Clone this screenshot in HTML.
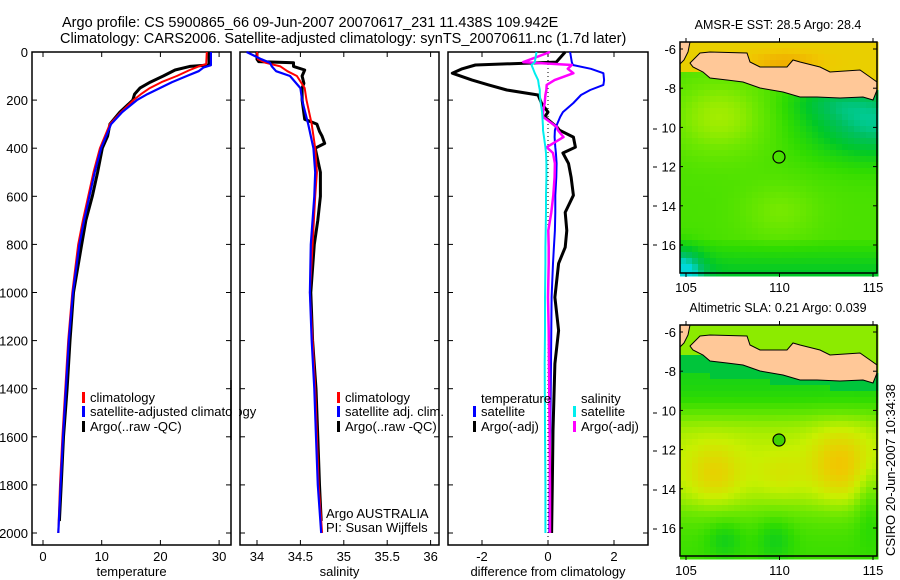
<!DOCTYPE html>
<html><head><meta charset="utf-8">
<style>
html,body{margin:0;padding:0;background:#fff;}
svg{display:block;font-family:"Liberation Sans",sans-serif;}
text{fill:#000;}
</style></head>
<body>
<svg id="fig" width="900" height="580" viewBox="0 0 900 580">
<text x="62" y="27" font-size="14.5">Argo profile: CS 5900865_66 09-Jun-2007 20070617_231 11.438S 109.942E</text>
<text x="60" y="43" font-size="14.5">Climatology: CARS2006. Satellite-adjusted climatology: synTS_20070611.nc (1.7d later)</text>
<g id="panels"></g>
<g id="maps"></g>
<text transform="translate(895,470) rotate(-90)" text-anchor="middle" font-size="13">CSIRO 20-Jun-2007 10:34:38</text>
</svg>
<script>
// ---- data ----
const depthTicks = [0,200,400,600,800,1000,1200,1400,1600,1800,2000];
const tempTicks = [0,10,20,30];
const salTicks = [34,34.5,35,35.5,36];
const diffTicks = [-2,0,2];
const latTicks = [-6,-8,-10,-12,-14,-16];
const latLabels = ["-6","-8","10","12","14","16"];
const lonTicks = [105,110,115];

const tClimDepth = [0,50,60,75,100,125,150,175,200,250,300,400,500,600,700,800,1000,1200,1400,1600,1800,2000];
const tClim      = [27.9,27.8,26.5,25,22.8,20.2,18.2,16.7,15.4,13.3,11.4,9.7,8.6,7.7,6.8,6.0,5.0,4.3,3.8,3.3,2.9,2.6];
const tSatDepth  = [0,55,65,80,100,125,150,175,200,250,300,400,500,600,700,800,1000,1200,1400,1600,1800,2000];
const tSat       = [28.6,28.6,27.3,26.5,24.5,22.0,19.9,17.8,16.0,13.5,11.6,9.9,8.8,7.9,7.0,6.2,5.1,4.4,3.9,3.4,3.0,2.6];
const tArgoDepth = [0,54,60,75,100,125,150,175,200,250,300,350,400,500,600,700,800,1000,1200,1400,1600,1800,1950];
const tArgo      = [28.3,28.3,25.0,22.5,20.5,18.3,16.5,15.6,15.3,13.1,11.4,11.0,10.1,9.3,8.4,7.3,6.6,5.2,4.6,4.1,3.5,3.1,2.8];

const sClimDepth = [0,30,45,60,80,100,150,200,300,400,500,600,800,1000,1200,1400,1600,1800,2000];
const sClim      = [34.0,34.01,34.1,34.27,34.35,34.46,34.55,34.57,34.63,34.67,34.69,34.67,34.64,34.61,34.64,34.67,34.69,34.71,34.75];
const sSatDepth  = [0,30,45,60,80,100,150,200,300,400,500,600,800,1000,1200,1400,1600,1800,2000];
const sSat       = [33.88,34.05,34.15,34.17,34.22,34.38,34.5,34.52,34.59,34.65,34.67,34.66,34.62,34.61,34.63,34.66,34.68,34.70,34.74];
const sArgoDepth = [0,30,40,45,60,75,100,130,150,200,280,300,330,350,380,400,450,500,600,700,800,1000,1200,1400,1600,1800,1950];
const sArgo      = [34.0,34.0,34.02,34.42,34.42,34.55,34.52,34.54,34.52,34.52,34.55,34.69,34.72,34.75,34.78,34.67,34.70,34.73,34.73,34.70,34.66,34.62,34.64,34.68,34.70,34.72,34.74];

const dDepth   = [0,42,54,70,88,117,137,158,179,212,250,270,312,325,354,396,420,463,520,596,667,742,812,879,1020,1158,1296,1575,1800,2000];
const dTempSat = [0.67,0.72,0.75,1.3,1.68,1.7,1.68,1.28,1.0,0.77,0.45,0.37,0.24,0.21,0.2,0.22,0.24,0.26,0.25,0.22,0.22,0.21,0.18,0.15,0.11,0.1,0.09,0.07,0.05,0.04];
const dTempArgo= [0.52,0.25,-2.2,-2.6,-2.9,-2.3,-1.8,-1.25,-0.3,-0.2,0.0,-0.1,0.27,0.35,0.77,0.83,0.45,0.62,0.7,0.77,0.52,0.57,0.52,0.32,0.21,0.32,0.21,0.15,0.13,0.11];
const dSalSat  = [-0.35,-0.4,-0.5,-0.45,-0.4,-0.3,-0.28,-0.25,-0.25,-0.22,-0.18,-0.17,-0.15,-0.15,-0.12,-0.08,-0.06,-0.05,-0.05,-0.06,-0.06,-0.07,-0.08,-0.08,-0.09,-0.09,-0.1,-0.09,-0.08,-0.08];
const dSalArgo = [0.06,-0.75,0.72,0.6,0.77,0.2,-0.04,-0.05,-0.08,-0.1,-0.15,-0.15,0.27,0.3,0.47,-0.04,0.15,0.21,0.2,0.16,0.1,0.01,0.02,0.02,0.0,0.02,0.03,0.05,0.06,0.06];

// ---- helpers ----
const NS="http://www.w3.org/2000/svg";
function mk(tag,attrs,parent){const e=document.createElementNS(NS,tag);for(const k in attrs)e.setAttribute(k,attrs[k]);parent.appendChild(e);return e;}
const top0=52, bot0=545;
const yD = d => top0 + d*0.2405;
const panels=document.getElementById('panels');

function panel(name,x0,x1,xScale,xticks,xlabels,xtitle,showDepth){
  const g=mk('g',{},panels);
  
  
  const r=mk('rect',{x:x0,y:top0,width:x1-x0,height:bot0-top0,fill:'none',stroke:'#000','stroke-width':1.5},g);
  
  
  depthTicks.forEach(d=>{
    const y=yD(d);
    mk('line',{x1:x0,x2:x0+5,y1:y,y2:y,stroke:'#000'},g);
    mk('line',{x1:x1-5,x2:x1,y1:y,y2:y,stroke:'#000'},g);
    if(showDepth){const t=mk('text',{x:x0-4,y:y+5,'text-anchor':'end','font-size':13},g);t.textContent=d;
      
      }
  });
  xticks.forEach((v,i)=>{
    const x=xScale(v);
    mk('line',{x1:x,x2:x,y1:top0,y2:top0+5,stroke:'#000'},g);
    mk('line',{x1:x,x2:x,y1:bot0-5,y2:bot0,stroke:'#000'},g);
    const t=mk('text',{x:x,y:561,'text-anchor':'middle','font-size':13},g);t.textContent=xlabels[i];
    
    
  });
  const tt=mk('text',{x:(x0+x1)/2,y:576,'text-anchor':'middle','font-size':13},g);tt.textContent=xtitle;
  
  
  return g;
}
function series(g,name,depths,vals,xs,color,w){
  const pts=depths.map((d,i)=>xs(vals[i]).toFixed(1)+','+yD(d).toFixed(1)).join(' ');
  const p=mk('polyline',{points:pts,fill:'none',stroke:color,'stroke-width':w,'stroke-linejoin':'round'},g);
  
  
}
function legend(g,x,y,color,label,name){
  mk('rect',{x:x,y:y-10,width:3,height:11,fill:color},g);
  const t=mk('text',{x:x+8,y:y,'font-size':13},g);t.textContent=label;
  
  
}

// Panel 1 temperature
const xT=v=>43+v*5.87;
const p1=panel('temperature-panel',32,231,xT,tempTicks,tempTicks.map(String),'temperature',true);
series(p1,'temp-argo-line',tArgoDepth,tArgo,xT,'#000',3);
series(p1,'temp-climatology-line',tClimDepth,tClim,xT,'#f00',2);
series(p1,'temp-satellite-adjusted-line',tSatDepth,tSat,xT,'#00f',2.2);
legend(p1,82,402,'#f00','climatology','legend-climatology');
legend(p1,82,416,'#00f','satellite-adjusted climatology','legend-satellite-adjusted');
legend(p1,82,431,'#000','Argo(..raw -QC)','legend-argo');
mk('rect',{x:232,y:380,width:7,height:60,fill:'#fff'},panels);
mk('line',{x1:231,x2:231,y1:380,y2:440,stroke:'#000','stroke-width':1.5},panels);

// Panel 2 salinity
const xS=v=>257+(v-34)*86.8;
const p2=panel('salinity-panel',240,439,xS,salTicks,["34","34.5","35","35.5","36"],'salinity',false);
series(p2,'sal-argo-line',sArgoDepth,sArgo,xS,'#000',3);
series(p2,'sal-climatology-line',sClimDepth,sClim,xS,'#f00',2);
series(p2,'sal-satellite-adjusted-line',sSatDepth,sSat,xS,'#00f',2.2);
legend(p2,337,402,'#f00','climatology','legend-sal-climatology');
legend(p2,337,416,'#00f','satellite adj. clim.','legend-sal-satellite');
legend(p2,337,431,'#000','Argo(..raw -QC)','legend-sal-argo');
const a1=mk('text',{x:326,y:518,'font-size':13},p2);a1.textContent='Argo AUSTRALIA';


const a2=mk('text',{x:326,y:532,'font-size':13},p2);a2.textContent='PI: Susan Wijffels';



// Panel 3 difference
const xDf=v=>548+v*33;
const p3=panel('difference-panel',448,648,xDf,diffTicks,["-2","0","2"],'difference from climatology',false);
mk('line',{x1:xDf(0),x2:xDf(0),y1:top0,y2:bot0,stroke:'#000','stroke-dasharray':'1,3'},p3);
series(p3,'diff-temp-argo-line',dDepth,dTempArgo,xDf,'#000',3);
series(p3,'diff-temp-satellite-line',dDepth,dTempSat,xDf,'#00f',2);
series(p3,'diff-sal-argo-line',dDepth,dSalArgo,xDf,'#f0f',2.5);
series(p3,'diff-sal-satellite-line',dDepth,dSalSat,xDf,'#0ee',2);
const lt=mk('text',{x:481,y:403,'font-size':13},p3);lt.textContent='temperature';


const ls=mk('text',{x:581,y:403,'font-size':13},p3);ls.textContent='salinity';


legend(p3,473,416,'#00f','satellite','legend-diff-temp-satellite');
legend(p3,473,431,'#000','Argo(-adj)','legend-diff-temp-argo');
legend(p3,573,416,'#0ee','satellite','legend-diff-sal-satellite');
legend(p3,573,431,'#f0f','Argo(-adj)','legend-diff-sal-argo');
[129,167,206,245,413,451,490,529].forEach(y=>mk('line',{x1:653,x2:657,y1:y,y2:y,stroke:'#000'},panels));

// ---- maps (approximate image fields) ----
const maps=document.getElementById('maps');
const java=[[20,11],[30,10],[67,11],[70,20],[80,25],[107,25],[113,18],[120,20],[140,25],[150,30],[180,28],[190,35],[197,40],[197,48],[193,58],[183,55],[160,56],[137,55],[120,55],[103,50],[80,46],[63,40],[47,38],[30,36],[23,30],[13,25],[10,21]];
const ramp=[[0,[0,216,216]],[0.2,[0,192,96]],[0.35,[0,200,40]],[0.5,[48,220,0]],[0.62,[110,232,0]],[0.74,[200,240,0]],[0.86,[240,200,0]],[1,[240,140,0]]];
function rampColor(v){
  v=Math.max(0,Math.min(1,v));
  for(let i=1;i<ramp.length;i++){
    if(v<=ramp[i][0]){const a=ramp[i-1],b=ramp[i];const t=(v-a[0])/(b[0]-a[0]);
      const c=a[1].map((c0,k)=>Math.round(c0+(b[1][k]-c0)*t));return `rgb(${c[0]},${c[1]},${c[2]})`;}
  }
  return 'rgb(240,140,0)';
}
const G=(x,y,cx,cy,sx,sy)=>Math.exp(-((x-cx)*(x-cx)/sx+(y-cy)*(y-cy)/sy));
const sig=z=>1/(1+Math.exp(-z));
function coastY(x){return 36+(x/197)*20;}
function sstV(x,y){
  if(y<coastY(x)-8) return 0.84+0.08*G(x,y,105,20,1200,100);
  let v=0.55+0.14*G(x,y,40,75,2500,1500)+0.08*G(x,y,100,170,1500,800)
    -0.42*G(x,y,195,80,4000,1200)-0.15*G(x,y,150,60,1500,300)
    -0.2*Math.max(0,(y-195)/36)-0.5*G(x,y,0,231,500,500);
  return v;
}
function slaV(x,y){
  const cy=coastY(x);
  if(y<cy-8) return 0.66;
  if(y<cy+12) return 0.3;
  let v=0.42+0.3*sig((y-85)/10)-0.2*sig((y-185)/12)
    +0.12*G(x,y,35,150,800,1000)+0.15*G(x,y,160,140,900,1400)+0.06*G(x,y,100,150,600,600)
    -0.12*G(x,y,45,215,300,300)-0.12*G(x,y,95,215,300,400)-0.1*G(x,y,190,180,200,1500);
  return v;
}
function drawMap(name,ox,oy,title,valFn,filledDot){
  const g=mk('g',{transform:`translate(${ox},${oy})`},maps);
  
  
  const cs=6;
  for(let y=0;y<231;y+=cs)for(let x=0;x<197;x+=cs){
    mk('rect',{x:x,y:y,width:cs+0.5,height:cs+0.5,fill:rampColor(valFn(x+3,y+3))},g);
  }
  const land=mk('polygon',{points:java.map(p=>p.join(',')).join(' '),fill:'#ffc898',stroke:'#000','stroke-width':1},g);
  
  
  mk('polygon',{points:'0,0 10,0 8,10 4,18 0,22',fill:'#ffc898',stroke:'#000','stroke-width':1},g);
  const c=mk('circle',{cx:99,cy:115,r:6,fill:filledDot?'#40d000':'none',stroke:'#000','stroke-width':1.2},g);
  
  
  mk('rect',{x:0,y:0,width:197,height:231,fill:'none',stroke:'#000','stroke-width':1.5},g);
  latTicks.forEach((lt,i)=>{
    const y=7+(-6-lt)*19.6;
    mk('line',{x1:197,x2:193,y1:y,y2:y,stroke:'#000'},g);
    mk('line',{x1:0,x2:3,y1:y,y2:y,stroke:'#000'},g);
    const t=mk('text',{x:-4,y:y+5,'text-anchor':'end','font-size':13},g);t.textContent=latLabels[i];
    
    
  });
  lonTicks.forEach(ln=>{
    const x=6+(ln-105)*18.7;
    mk('line',{x1:x,x2:x,y1:0,y2:-4,stroke:'#000'},g);
    mk('line',{x1:x,x2:x,y1:231,y2:235,stroke:'#000'},g);
    const t=mk('text',{x:x,y:250,'text-anchor':'middle','font-size':13},g);t.textContent=ln;
    
    
  });
  const tt=mk('text',{x:98,y:-13,'text-anchor':'middle','font-size':12.5},g);tt.textContent=title;
  
  
}
drawMap('sst-map',680,42,'AMSR-E SST: 28.5 Argo: 28.4',sstV,false);
drawMap('sla-map',680,325,'Altimetric SLA: 0.21 Argo: 0.039',slaV,true);
</script>
</body></html>
